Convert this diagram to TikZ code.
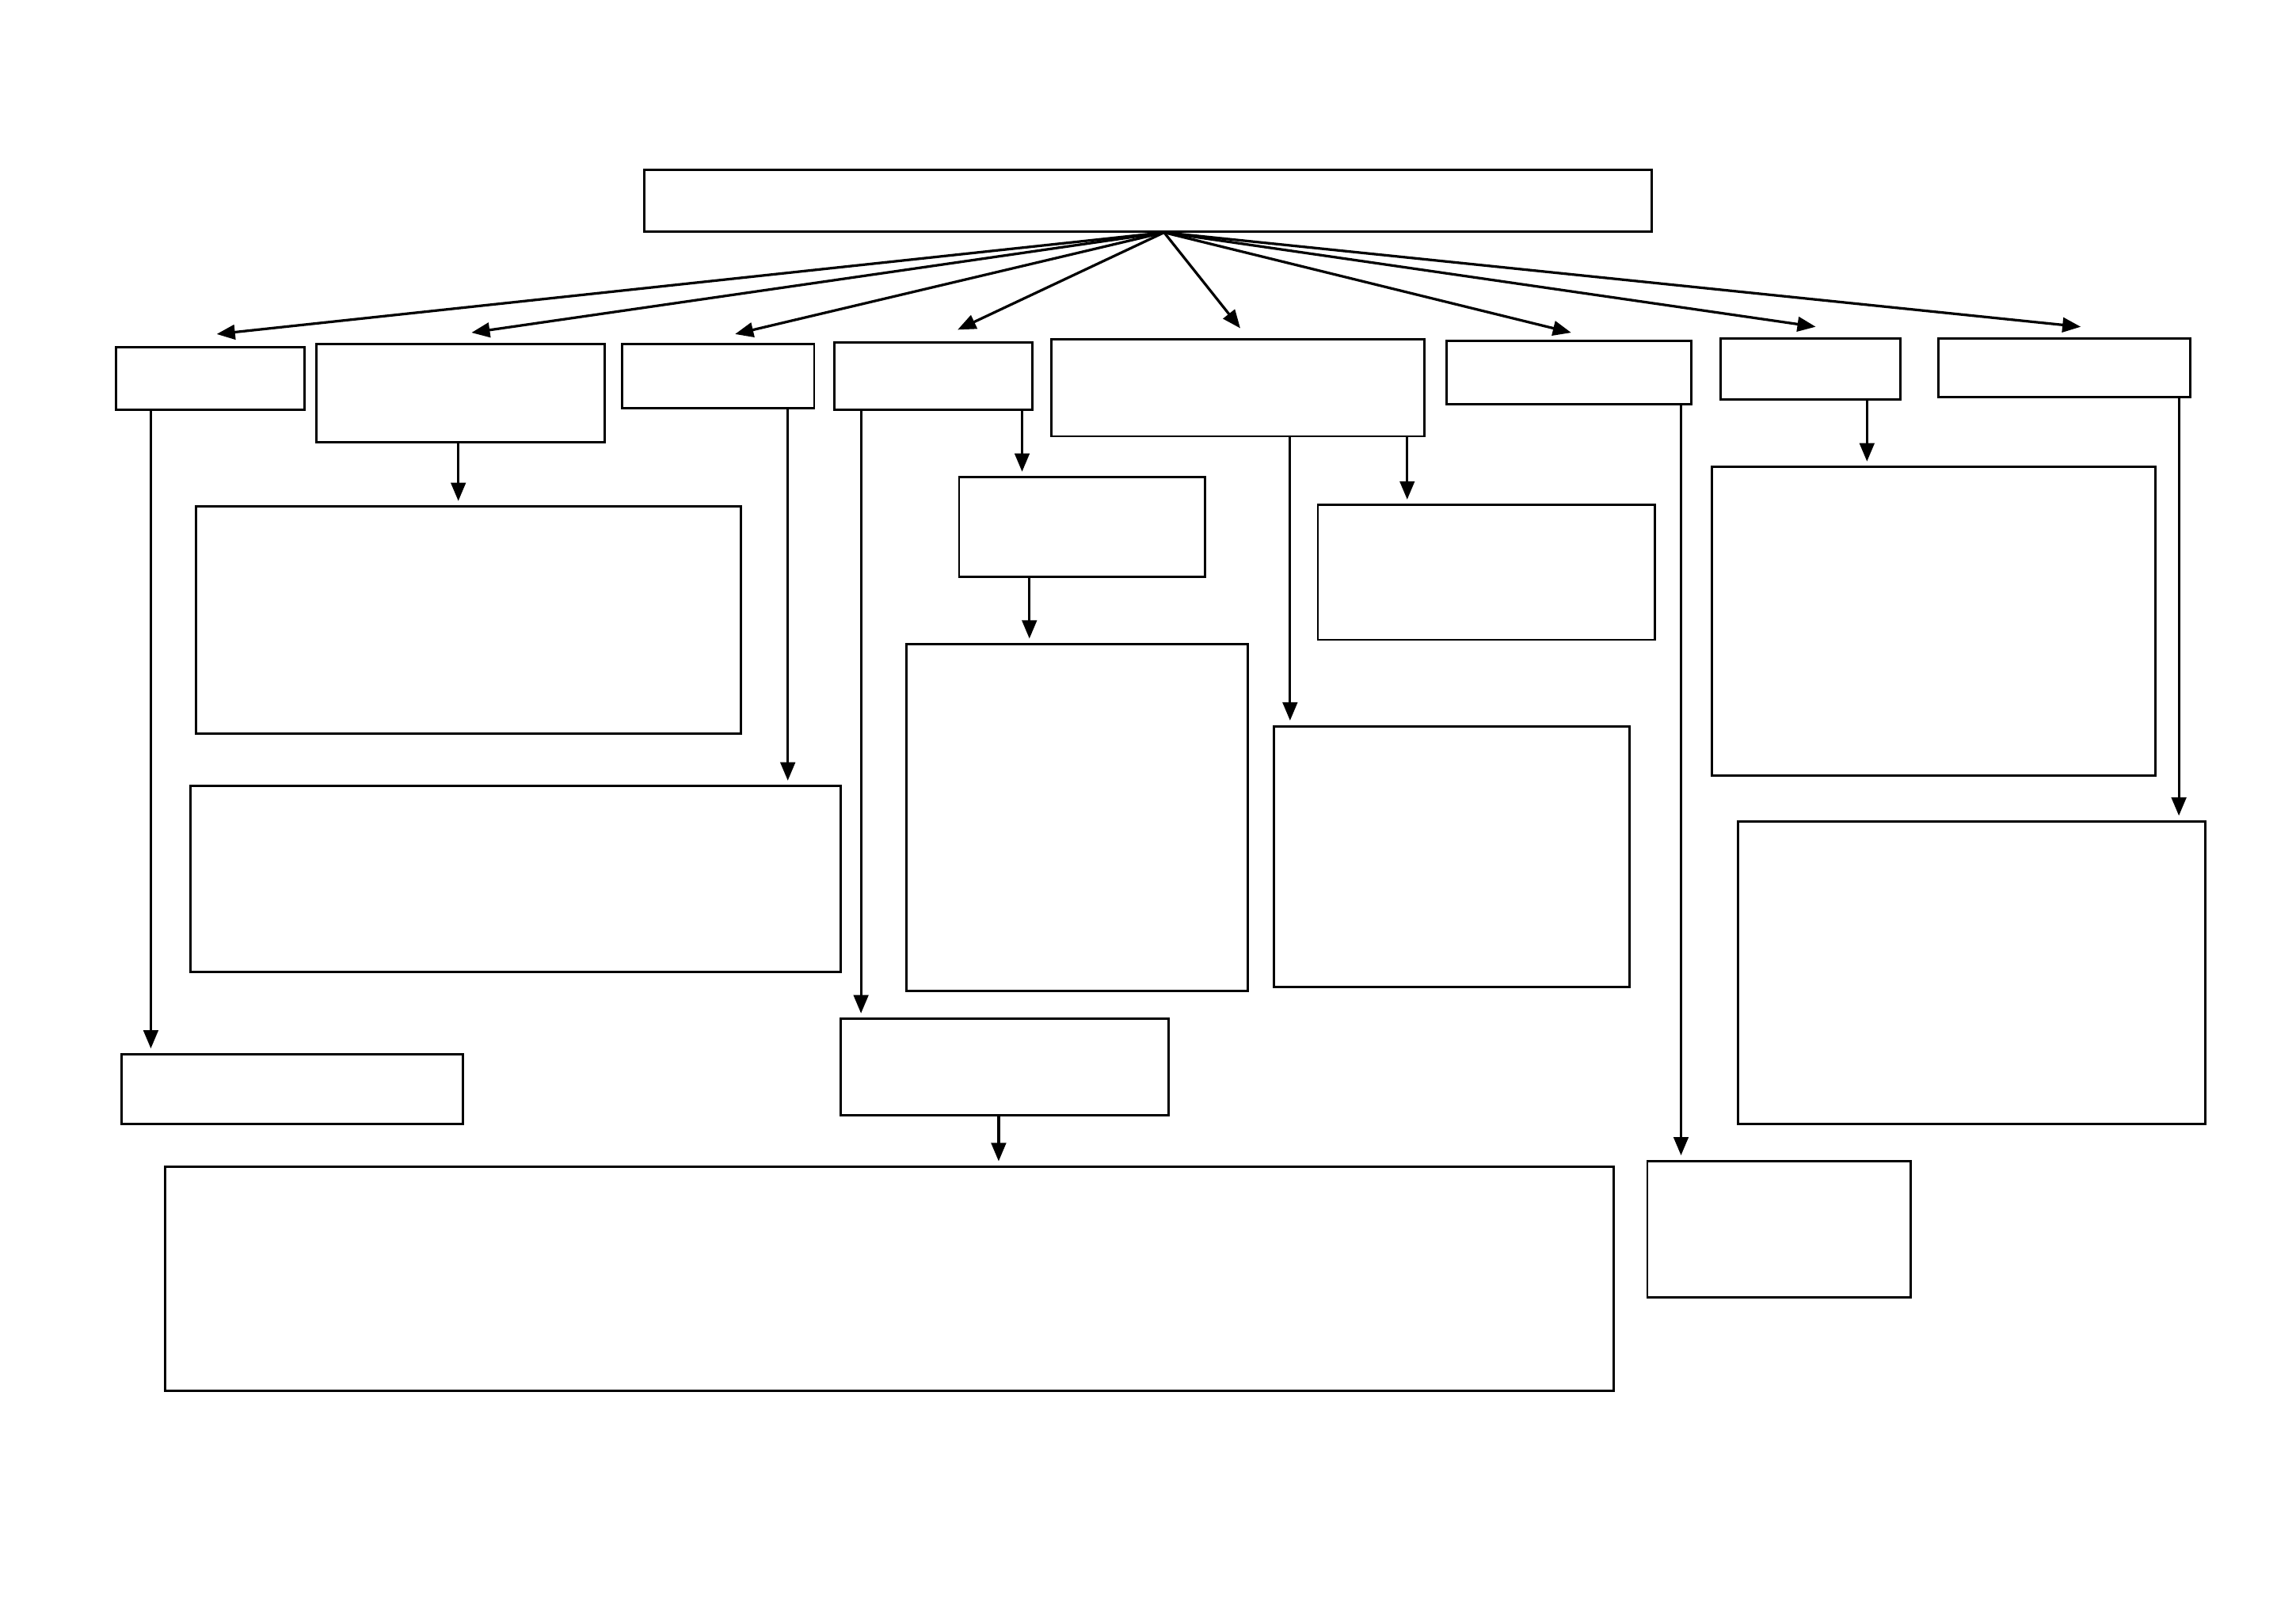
\documentclass[tikz,border=0pt]{standalone}
\usepackage{tikz}
\usetikzlibrary{arrows.meta}
\usetikzlibrary{calc, fit}

\begin{document}
\begin{tikzpicture}[x=0.02cm, y=-0.02cm,
        box/.style={draw, line width=0.9pt, inner sep=0pt},
        fan/.style={line width=1pt, -{Triangle[length=0.25cm, width=0.2cm]}},
        arr/.style={line width=1pt, -{Triangle[length=0.25cm, width=0.2cm]}, shorten >=0.06cm}]
                \useasboundingbox (0,0) rectangle (1568,1108.8);
                % Top box
                \node[box, fit={(440,116) (1128,158)}] (main) {};
                % First row
                \node[box, fit={(79,237) (208,280)}] (A) {};
                \node[box, fit={(216,235) (413,302)}] (B) {};
                \node[box, fit={(425,235) (556,279)}] (C) {};
                \node[box, fit={(570,234) (705,280)}] (D) {};
                \node[box, fit={(718,232) (973,298)}] (E) {};
                \node[box, fit={(988,233) (1155,276)}] (F) {};
                \node[box, fit={(1175,231) (1298,273)}] (G) {};
                \node[box, fit={(1324,231) (1496,271)}] (H) {};
                % Lower boxes
                \node[box, fit={(134,346) (506,501)}] (B1) {};
                \node[box, fit={(130,537) (574,664)}] (C1) {};
                \node[box, fit={(83,720) (316,768)}] (A1) {};
                \node[box, fit={(655,326) (823,394)}] (D2) {};
                \node[box, fit={(619,440) (852,677)}] (D3) {};
                \node[box, fit={(574,696) (798,762)}] (D1) {};
                \node[box, fit={(113,797) (1102,950)}] (D4) {};
                \node[box, fit={(900,345) (1130,437)}] (E2) {};
                \node[box, fit={(870,496) (1113,674)}] (E1) {};
                \node[box, fit={(1125,793) (1305,886)}] (F1) {};
                \node[box, fit={(1169,319) (1472,530)}] (G1) {};
                \node[box, fit={(1187,561) (1506,768)}] (H1) {};
                % Fan from the top box
                \coordinate (src) at ($(main.south)+(11,0)$);
                \foreach \n/\dx/\gap in {A/4.5/8, B/7.5/7, C/11.5/6, D/16.5/8,
                                        E/1.5/7, F/1.5/5, G/3.5/7, H/11/7} {
                    \draw[fan] (src) -- ($(\n.north)+(\dx,-\gap)$);
                }
                % Downward arrows
                \foreach \a/\b/\x in {A/A1/103, B/B1/313, C/C1/538, D/D1/588, D/D2/698,
                                      D2/D3/703, D1/D4/682, E/E1/881, E/E2/961,
                                      F/F1/1148, G/G1/1275, H/H1/1488} {
                    \draw[arr] (\a.south -| \x,0) -- (\b.north -| \x,0);
                }
            \end{tikzpicture}
\end{document}
